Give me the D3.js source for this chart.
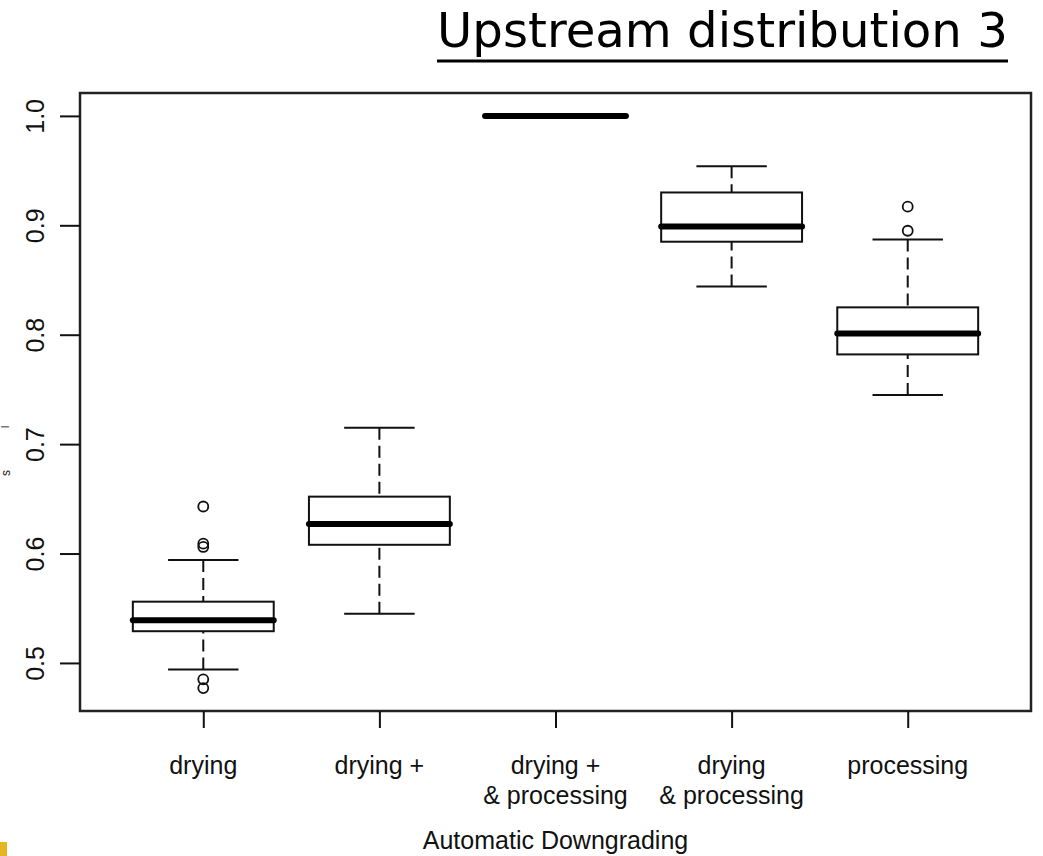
<!DOCTYPE html>
<html>
<head>
<meta charset="utf-8">
<title>Upstream distribution 3</title>
<script src="https://d3js.org/d3.v7.min.js"></script>
<style>
  body { margin: 0; background: #fff; }
  svg text { font-family: "Liberation Sans", Arial, sans-serif; fill: #111; }
</style>
</head>
<body>
<div id="chart"></div>
<script>
// values
var categories = ["drying", "drying +", "drying + & processing", "drying & processing", "processing"];
var tickLines = [["drying"], ["drying +"], ["drying +", "& processing"], ["drying", "& processing"], ["processing"]];
// [lower whisker, Q1, median, Q3, upper whisker]
var lowWhisker = [0.494, 0.545, 1.0, 0.844, 0.745];
var q1s        = [0.529, 0.608, 1.0, 0.885, 0.782];
var medians    = [0.539, 0.627, 1.0, 0.899, 0.801];
var q3s        = [0.556, 0.652, 1.0, 0.930, 0.825];
var highWhisker= [0.594, 0.715, 1.0, 0.954, 0.887];
var outliers   = [[0.643, 0.609, 0.606, 0.485, 0.477], [], [], [], [0.917, 0.895]];
var yTicks = [0.5, 0.6, 0.7, 0.8, 0.9, 1.0];

var width = 1043, height = 856;
var plot = {left: 80, right: 1031, top: 93, bottom: 711};

var svg = d3.select("#chart").append("svg")
  .attr("width", width)
  .attr("height", height);

// y range like R: data extent padded by 4%
var allVals = d3.merge([lowWhisker, highWhisker, d3.merge(outliers)]);
var lo = d3.min(allVals), hi = d3.max(allVals), pad = (hi - lo) * 0.04;
var y = d3.scaleLinear().domain([lo - pad, hi + pad]).range([plot.bottom, plot.top]);

var x = d3.scalePoint().domain(categories).range([plot.left, plot.right]).padding(0.7);
var boxW = x.step() * 0.8;

// title
var title = svg.append("text")
  .attr("x", 437).attr("y", 47)
  .style("font-family", "'DejaVu Sans', Verdana, sans-serif")
  .style("font-size", "44px")
  .style("fill", "#000")
  .text("Upstream distribution 3");
var tw = title.node().getComputedTextLength();
title.style("font-size", (44 * 571 / tw) + "px");
svg.append("line")
  .attr("x1", 437).attr("x2", 1008).attr("y1", 61).attr("y2", 61)
  .attr("stroke", "#000").attr("stroke-width", 3);

// boxes
var boxes = categories.map(function(c, i) {
  return {cat: c, lw: lowWhisker[i], q1: q1s[i], med: medians[i], q3: q3s[i], uw: highWhisker[i], out: outliers[i]};
});

var g = svg.append("g").selectAll("g").data(boxes).enter().append("g");

// whiskers (dashed), from whisker end to box edge
g.append("line")
  .attr("x1", function(d) { return x(d.cat); }).attr("x2", function(d) { return x(d.cat); })
  .attr("y1", function(d) { return y(d.uw); }).attr("y2", function(d) { return y(d.q3); })
  .attr("stroke", "#111").attr("stroke-width", 2).attr("stroke-dasharray", "12,6");
g.append("line")
  .attr("x1", function(d) { return x(d.cat); }).attr("x2", function(d) { return x(d.cat); })
  .attr("y1", function(d) { return y(d.lw); }).attr("y2", function(d) { return y(d.q1); })
  .attr("stroke", "#111").attr("stroke-width", 2).attr("stroke-dasharray", "12,6");

// staples
["uw", "lw"].forEach(function(k) {
  g.append("line")
    .attr("x1", function(d) { return x(d.cat) - boxW / 4; })
    .attr("x2", function(d) { return x(d.cat) + boxW / 4; })
    .attr("y1", function(d) { return y(d[k]); })
    .attr("y2", function(d) { return y(d[k]); })
    .attr("stroke", "#111").attr("stroke-width", 2);
});

// box
g.append("rect")
  .attr("x", function(d) { return x(d.cat) - boxW / 2; })
  .attr("width", boxW)
  .attr("y", function(d) { return y(d.q3); })
  .attr("height", function(d) { return y(d.q1) - y(d.q3); })
  .attr("fill", "#fff").attr("stroke", "#111").attr("stroke-width", 2);

// median
g.append("line")
  .attr("x1", function(d) { return x(d.cat) - boxW / 2; })
  .attr("x2", function(d) { return x(d.cat) + boxW / 2; })
  .attr("y1", function(d) { return y(d.med); })
  .attr("y2", function(d) { return y(d.med); })
  .attr("stroke", "#000").attr("stroke-width", 6).attr("stroke-linecap", "round");

// outliers
g.selectAll("circle")
  .data(function(d) { return d.out.map(function(v) { return {cat: d.cat, v: v}; }); })
  .enter().append("circle")
  .attr("cx", function(d) { return x(d.cat); })
  .attr("cy", function(d) { return y(d.v); })
  .attr("r", 5)
  .attr("fill", "none").attr("stroke", "#111").attr("stroke-width", 1.8);

// frame
svg.append("rect")
  .attr("x", plot.left).attr("y", plot.top)
  .attr("width", plot.right - plot.left).attr("height", plot.bottom - plot.top)
  .attr("fill", "none").attr("stroke", "#222").attr("stroke-width", 2.5);

// y axis
var yAxis = svg.append("g")
  .attr("transform", "translate(" + plot.left + ",0)")
  .call(d3.axisLeft(y).tickValues(yTicks).tickSize(20).tickFormat(d3.format(".1f")));
yAxis.select(".domain").remove();
yAxis.selectAll(".tick line").attr("stroke", "#111").attr("stroke-width", 2);
yAxis.selectAll(".tick text")
  .attr("x", 0).attr("y", 0).attr("dy", null)
  .attr("transform", "translate(-36,0) rotate(-90)")
  .attr("text-anchor", "middle")
  .style("font-size", "25px")
  .style("font-family", "'Liberation Sans', Arial, sans-serif")
  .attr("fill", "#111");

// x axis
var xAxis = svg.append("g")
  .attr("transform", "translate(0," + plot.bottom + ")")
  .call(d3.axisBottom(x).tickSize(17).tickFormat(""));
xAxis.select(".domain").remove();
xAxis.selectAll(".tick line").attr("stroke", "#111").attr("stroke-width", 2);

var labels = svg.append("g").selectAll("text").data(categories).enter().append("text")
  .attr("text-anchor", "middle")
  .style("font-size", "25px");
labels.selectAll("tspan")
  .data(function(d, i) { return tickLines[i].map(function(t) { return {cat: d, t: t}; }); })
  .enter().append("tspan")
  .attr("x", function(d) { return x(d.cat); })
  .attr("y", function(d, j) { return 774 + j * 30; })
  .text(function(d) { return d.t; });

// x axis title
svg.append("text")
  .attr("x", (plot.left + plot.right) / 2).attr("y", 849)
  .attr("text-anchor", "middle")
  .style("font-size", "25px")
  .text("Automatic Downgrading");

// what is left of the y axis title at the left edge
svg.append("text").attr("transform", "translate(10,476) rotate(-90)")
  .style("font-size", "12px").text("s");
svg.append("text").attr("transform", "translate(9,428) rotate(-90)")
  .style("font-size", "10px").text("l");

// yellow mark in the corner
svg.append("rect").attr("x", 0).attr("y", 842).attr("width", 7).attr("height", 14).attr("fill", "#e6b622");
</script>
</body>
</html>
